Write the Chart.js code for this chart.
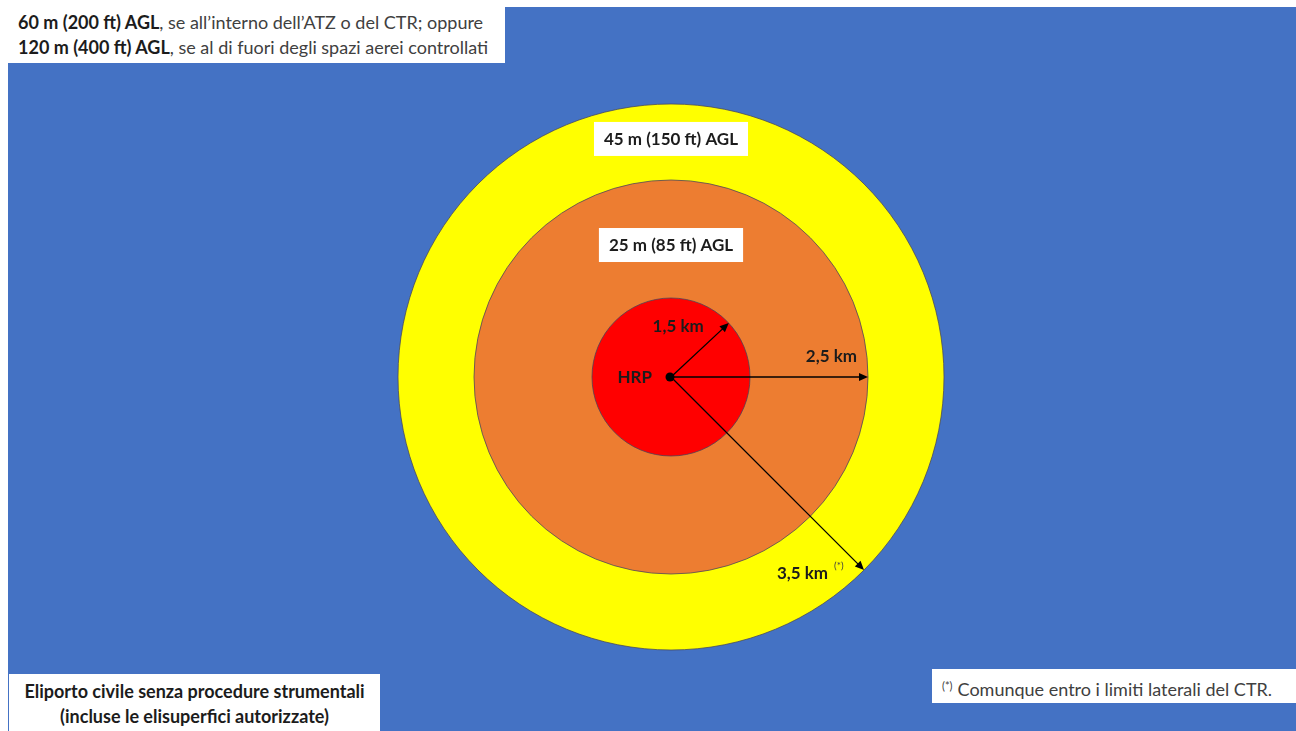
<!DOCTYPE html>
<html lang="it">
<head>
<meta charset="utf-8">
<title>Eliporto civile - zone</title>
<script src="https://cdn.jsdelivr.net/npm/chart.js@4.4.1/dist/chart.umd.min.js"></script>
<style>
  html, body { margin: 0; padding: 0; background: #fff; overflow: hidden; }
  #wrap { position: relative; width: 1296px; height: 731px; font-family: Lato, "Liberation Sans", sans-serif; }
  #grafico { position: absolute; left: 0; top: 0; }
  .box { position: absolute; background: #fff; color: #404040; font-size: 18px; line-height: 25px; white-space: nowrap; }
  .box b { color: #1c1c1c; }
  #box-quote { left: 8px; top: 7px; width: 497px; height: 56px; padding-left: 10px; padding-top: 3px; box-sizing: border-box; }
  #box-titolo { left: 9px; top: 674px; width: 371px; height: 57px; text-align: center; padding-top: 5px; box-sizing: border-box; color: #1c1c1c; font-weight: bold; }
  #box-nota { left: 932px; top: 669px; width: 364px; height: 34px; padding-left: 10px; line-height: 34px; box-sizing: border-box; }
  #box-nota sup { font-size: 11px; vertical-align: 6px; margin-right: 5px; }
</style>
</head>
<body>
<div id="wrap">
  <canvas id="grafico" width="1296" height="731"></canvas>
  <div class="box" id="box-quote"><b>60 m (200 ft) AGL</b>, se all’interno dell’ATZ o del CTR; oppure<br><b>120 m (400 ft) AGL</b>, se al di fuori degli spazi aerei controllati</div>
  <div class="box" id="box-titolo">Eliporto civile senza procedure strumentali<br>(incluse le elisuperfici autorizzate)</div>
  <div class="box" id="box-nota"><sup>(*)</sup>Comunque entro i limiti laterali del CTR.</div>
</div>
<script>
// --- DATI DELLO SCHEMA (dal centro verso l'esterno) ---
const zone = ['Zona rossa', 'Zona arancione', 'Zona gialla'];
const raggiKm = ['1,5 km', '2,5 km', '3,5 km'];
const raggiDisegno = [0.79, 1.97, 2.73];   // raggio disegnato, schema non in scala
const quoteMax = ['', '25 m (85 ft) AGL', '45 m (150 ft) AGL'];
const coloriZone = ['#FF0000', '#ED7D31', '#FFFF00'];
const centroLabel = 'HRP';

// --- UTILITA' DI DISEGNO ---
function freccia(ctx, x0, y0, x1, y1) {
    const a = Math.atan2(y1 - y0, x1 - x0);
    const L = 9, W = 4;
    ctx.beginPath();
    ctx.moveTo(x0, y0);
    ctx.lineTo(x1 - Math.cos(a) * (L - 2), y1 - Math.sin(a) * (L - 2));
    ctx.stroke();
    ctx.beginPath();
    ctx.moveTo(x1, y1);
    ctx.lineTo(x1 - L * Math.cos(a) + W * Math.sin(a), y1 - L * Math.sin(a) - W * Math.cos(a));
    ctx.lineTo(x1 - L * Math.cos(a) - W * Math.sin(a), y1 - L * Math.sin(a) + W * Math.cos(a));
    ctx.closePath();
    ctx.fill();
}

const pluginSchema = {
    id: 'schema',
    beforeDraw(chart) {
        const ctx = chart.ctx;
        ctx.save();
        ctx.fillStyle = '#4472C4';
        ctx.fillRect(8, 7, chart.width - 8, chart.height - 7);
        ctx.restore();
    },
    afterDatasetsDraw(chart) {
        const ctx = chart.ctx;
        const sc = chart.scales.r;
        const cx = sc.xCenter, cy = sc.yCenter;
        const angoli = [-43, 0, 45];          // direzione delle frecce (gradi)
        const posQuota = [0, 0.67, 0.872];    // posizione etichetta quota sul raggio

        ctx.save();
        // contorno dei cerchi
        ctx.strokeStyle = 'rgba(70, 70, 90, 0.75)';
        ctx.lineWidth = 1;
        chart.data.datasets.forEach((ds, i) => {
            const el = chart.getDatasetMeta(i).data[0];
            ctx.beginPath();
            ctx.arc(el.x, el.y, el.outerRadius, 0, Math.PI * 2);
            ctx.stroke();
        });

        // etichette delle quote (box bianchi)
        ctx.font = 'bold 17px Lato, "Liberation Sans", sans-serif';
        ctx.textAlign = 'center';
        ctx.textBaseline = 'middle';
        quoteMax.forEach((q, i) => {
            if (!q) return;
            const d = sc.getDistanceFromCenterForValue(raggiDisegno[i]) * posQuota[i];
            const y = cy - d;
            const w = ctx.measureText(q).width + 20;
            ctx.fillStyle = '#fff';
            ctx.fillRect(cx - w / 2, y - 17, w, 34);
            ctx.fillStyle = '#1c1c1c';
            ctx.fillText(q, cx, y + 1);
        });

        // frecce dei raggi
        ctx.strokeStyle = '#000';
        ctx.fillStyle = '#000';
        ctx.lineWidth = 1.3;
        const punte = raggiDisegno.map((v, i) => {
            const d = sc.getDistanceFromCenterForValue(v);
            const a = angoli[i] * Math.PI / 180;
            const p = { x: cx + Math.cos(a) * d, y: cy + Math.sin(a) * d };
            freccia(ctx, cx, cy, p.x, p.y);
            return p;
        });

        // punto HRP
        ctx.beginPath();
        ctx.arc(cx - 1, cy, 4.5, 0, Math.PI * 2);
        ctx.fill();

        ctx.fillStyle = '#1c1c1c';
        ctx.font = 'bold 17px Lato, "Liberation Sans", sans-serif';
        ctx.textAlign = 'right';
        ctx.fillText(centroLabel, cx - 19, cy + 1);

        ctx.fillText(raggiKm[0], punte[0].x - 25, punte[0].y + 3);
        ctx.fillText(raggiKm[1], punte[1].x - 11, punte[1].y - 20);
        ctx.fillText(raggiKm[2], punte[2].x - 36, punte[2].y + 3);
        ctx.font = '10px Lato, "Liberation Sans", sans-serif';
        ctx.textAlign = 'left';
        ctx.fillStyle = '#404040';
        ctx.fillText('(*)', punte[2].x - 30, punte[2].y - 4);
        ctx.restore();
    }
};

// --- GRAFICO ---
const ctx = document.getElementById('grafico').getContext('2d');
new Chart(ctx, {
    type: 'polarArea',
    data: {
        labels: [centroLabel],
        datasets: zone.map((z, i) => ({
            label: z,
            data: [raggiDisegno[i]],
            backgroundColor: coloriZone[i],
            borderWidth: 0
        }))
    },
    options: {
        responsive: false,
        animation: false,
        layout: { padding: { left: 371, right: 325, top: 77, bottom: 54 } },
        plugins: { legend: { display: false }, tooltip: { enabled: false } },
        scales: {
            r: {
                min: 0,
                max: 3,
                ticks: { display: false },
                grid: { display: false },
                angleLines: { display: false },
                pointLabels: { display: false }
            }
        }
    },
    plugins: [pluginSchema]
});
</script>
</body>
</html>
